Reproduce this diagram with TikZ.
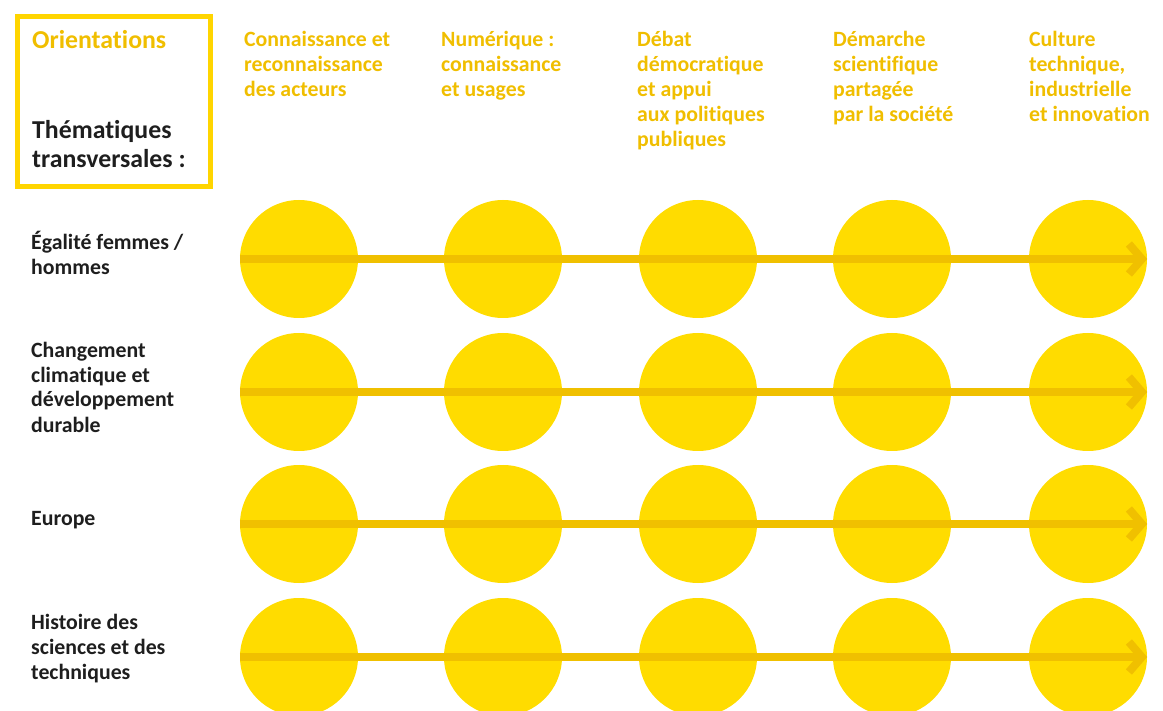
\documentclass[tikz,border=0pt]{standalone}
\usepackage{fontspec}
\setmainfont{Carlito}[Ligatures=NoCommon]
\usetikzlibrary{arrows.meta}

\definecolor{discyellow}{HTML}{FFDC00}
\definecolor{linkyellow}{HTML}{F0C000}
\definecolor{headyellow}{HTML}{F0BE00}
\definecolor{boxyellow}{HTML}{FFD500}
\definecolor{labelgray}{HTML}{1E1E1E}

\begin{document}
\begin{tikzpicture}[x=1pt,y=-1pt,
  head/.style={anchor=base west,align=left,inner sep=0pt,text=headyellow,
    font=\fontsize{21.8}{25}\selectfont\bfseries},
  theme/.style={anchor=base west,align=left,inner sep=0pt,text=labelgray,
    font=\fontsize{21.8}{25}\selectfont\bfseries},
  title/.style={anchor=base west,align=left,inner sep=0pt,
    font=\fontsize{25.8}{29}\selectfont\bfseries},
  disc/.style={circle,fill=discyellow,minimum size=118pt,inner sep=0pt},
  link/.style={draw=linkyellow,line width=8pt,-{Straight Barb[length=13pt,width=30pt]}}]

\useasboundingbox (0,0) rectangle (1163,711);

% legend box (text nodes sit on their last baseline)
\node[draw=boxyellow,line width=5pt,minimum width=193pt,minimum height=170pt,
  inner sep=0pt,anchor=north west] (legend) at (14.5,14.5) {};
\node[title,text=headyellow] (orient) at (32,49) {Orientations};
\node[title,text=labelgray] (themes) at (32,168) {Thématiques\\transversales :};

% orientations
\node[head] (h-1) at (244,97) {Connaissance et\\reconnaissance\\des acteurs};
\node[head] (h-2) at (441,97) {Numérique :\\connaissance\\et usages};
\node[head] (h-3) at (637,147) {Débat\\démocratique\\et appui\\aux politiques\\publiques};
\node[head] (h-4) at (833,122) {Démarche\\scientifique\\partagée\\par la société};
\node[head] (h-5) at (1029,122) {Culture\\technique,\\industrielle\\et innovation};

% thematiques
\node[theme] (t-1) at (31,275) {Égalité femmes /\\hommes};
\node[theme] (t-2) at (31,432) {Changement\\climatique et\\développement\\durable};
\node[theme] (t-3) at (31,525) {Europe};
\node[theme] (t-4) at (31,679) {Histoire des\\sciences et des\\techniques};

% discs and arrows
\foreach \cx [count=\j] in {299,503,698,892,1088}
  \foreach \cy [count=\i] in {259,392,524,657}
    \node[disc] (d-\i-\j) at (\cx,\cy) {};
\foreach \i in {1,...,4}
  \draw[link] (d-\i-1.west) -- (d-\i-5.east);

\end{tikzpicture}
\end{document}
